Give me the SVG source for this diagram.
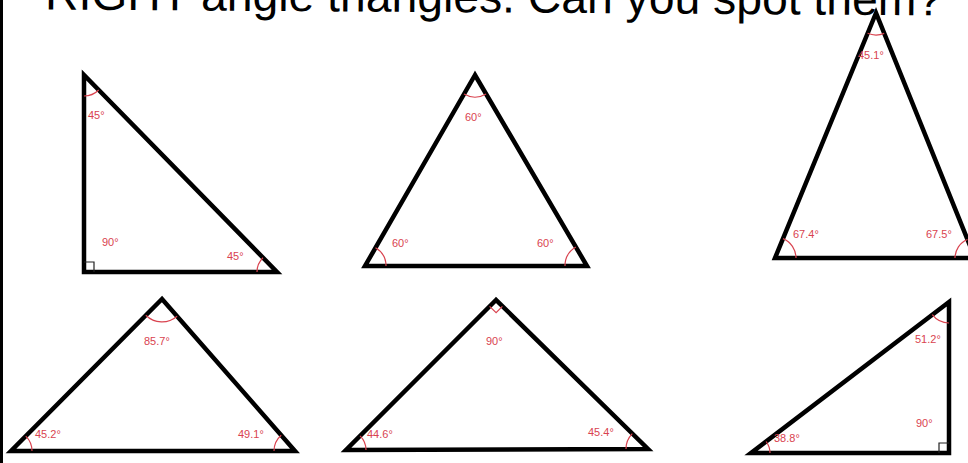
<svg xmlns="http://www.w3.org/2000/svg" width="968" height="463" viewBox="0 0 968 463">
<style>
.tri{fill:none;stroke:#000;stroke-width:4.5;stroke-linejoin:miter;stroke-miterlimit:20}
.arc{fill:none;stroke:#d9434f;stroke-width:1.2}
.sq{fill:none;stroke:#222;stroke-width:1.2}
.lbl{font-family:"Liberation Sans",Arial,sans-serif;font-size:11px;fill:#d9434f}
.title{font-family:"Liberation Sans",Arial,sans-serif;font-size:46px;fill:#000}
</style>
<rect width="968" height="463" fill="#fff"/>
<rect x="0" y="0" width="3" height="463" fill="#000"/>
<text class="title" x="45" y="9.5" textLength="897" lengthAdjust="spacingAndGlyphs" transform="rotate(0.37 45 9.5)">RIGHT angle triangles. Can you spot them?</text>

<g id="tri1">
<polygon class="tri" points="84,75 84,272 277,272"/>
<path class="arc" d="M84,96 A21,21 0 0 0 98.7,90"/>
<path class="arc" d="M257,272 A20,20 0 0 1 263,257.7"/>
<path class="sq" d="M84,262 L94,262 L94,272"/>
<text class="lbl" x="88" y="119">45°</text>
<text class="lbl" x="102" y="246">90°</text>
<text class="lbl" x="227" y="260">45°</text>
</g>

<g id="tri2">
<polygon class="tri" points="475,75 365,266 587,266"/>
<path class="arc" d="M464,94.1 A22,22 0 0 0 486.1,94"/>
<path class="arc" d="M386,266 A21,21 0 0 0 375.5,247.8"/>
<path class="arc" d="M565,266 A22,22 0 0 1 575.9,247"/>
<text class="lbl" x="465" y="121">60°</text>
<text class="lbl" x="392" y="247">60°</text>
<text class="lbl" x="537" y="247">60°</text>
</g>

<g id="tri3">
<polygon class="tri" points="876,13 775,258 975,258"/>
<path class="arc" d="M867.6,33.3 A22,22 0 0 0 884.2,33.4"/>
<path class="arc" d="M796,258 A21,21 0 0 0 783,238.6"/>
<path class="arc" d="M955,258 A20,20 0 0 1 967.5,239.5"/>
<text class="lbl" x="858" y="59">45.1°</text>
<text class="lbl" x="793" y="238">67.4°</text>
<text class="lbl" x="926" y="238">67.5°</text>
</g>

<g id="tri4">
<polygon class="tri" points="162,299 11,451 295,451"/>
<path class="arc" d="M145.8,315.3 A23,23 0 0 0 177.1,316.3"/>
<path class="arc" d="M32,451 A21,21 0 0 0 25.8,436.1"/>
<path class="arc" d="M274,451 A21,21 0 0 1 281.2,435.2"/>
<text class="lbl" x="144" y="345">85.7°</text>
<text class="lbl" x="35" y="438">45.2°</text>
<text class="lbl" x="238" y="438">49.1°</text>
</g>

<g id="tri5">
<polygon class="tri" points="496,300 346,450 648,449"/>
<path class="arc" d="M489.6,306.4 L496.1,312.7 L502.4,306.3"/>
<path class="arc" d="M366,449.9 A20,20 0 0 0 360.1,435.9"/>
<path class="arc" d="M626,449.1 A22,22 0 0 1 632.3,433.6"/>
<text class="lbl" x="486" y="345">90°</text>
<text class="lbl" x="367" y="438">44.6°</text>
<text class="lbl" x="588" y="436">45.4°</text>
</g>

<g id="tri6">
<polygon class="tri" points="949,302 751,453 949,453"/>
<path class="arc" d="M949,323 A21,21 0 0 1 932.3,314.7"/>
<path class="arc" d="M770,453 A19,19 0 0 0 766.1,441.5"/>
<path class="sq" d="M939,453 L939,443 L949,443"/>
<text class="lbl" x="915" y="343">51.2°</text>
<text class="lbl" x="916" y="427">90°</text>
<text class="lbl" x="774" y="442">38.8°</text>
</g>
</svg>
